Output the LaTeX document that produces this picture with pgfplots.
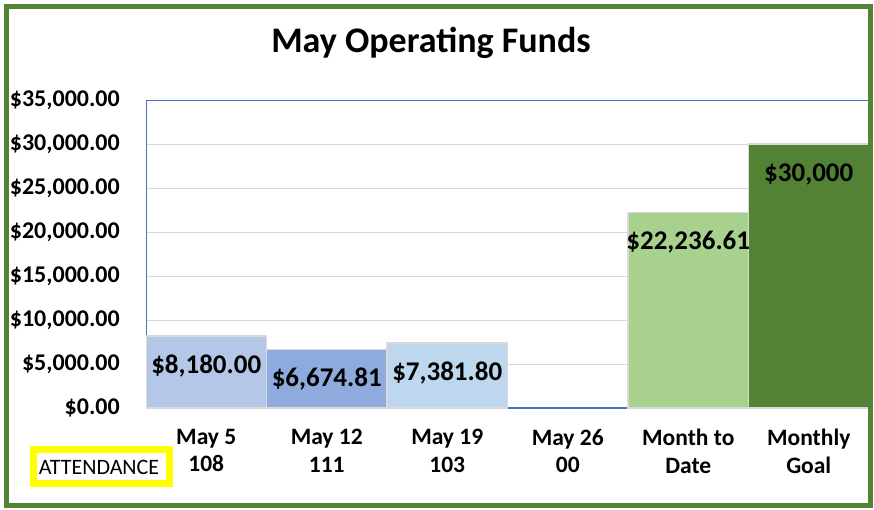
\documentclass[border=0pt]{standalone}
\usepackage{pgfplots}
\pgfplotsset{compat=1.18}
\usepackage{fontspec}
\setmainfont{Carlito}
\definecolor{frame}{HTML}{548235}
\definecolor{b1}{HTML}{B4C7E7}
\definecolor{b2}{HTML}{8FAADC}
\definecolor{b3}{HTML}{BDD7EE}
\definecolor{g1}{HTML}{A9D18E}
\definecolor{g2}{HTML}{548235}
\definecolor{axblue}{HTML}{4472C4}
\definecolor{gridgray}{HTML}{D9D9D9}
\definecolor{hl}{HTML}{FFFF00}
\begin{document}
\begin{tikzpicture}[x=1pt,y=1pt]
\path[fill=white,use as bounding box] (0,0) rectangle (874,509);
\node[font=\fontsize{36}{42}\selectfont\bfseries] at (431,466) {May Operating Funds};
\begin{axis}[
 at={(146pt,101pt)}, anchor=south west,
 scale only axis, width=723pt, height=308pt,
 xmin=-0.5, xmax=5.5, ymin=0, ymax=35000,
 scaled y ticks=false,
 axis line style={draw=none},
 ymajorgrids, grid style={gridgray, line width=1pt},
 major tick length=0pt,
 ytick={0,5000,...,35000},
 yticklabels={{\$0.00},{\$5,000.00},{\$10,000.00},{\$15,000.00},{\$20,000.00},{\$25,000.00},{\$30,000.00},{\$35,000.00}},
 xtick={0,...,5},
 xticklabels={{May 5\\108},{May 12\\111},{May 19\\103},{May 26\\00},{Month to\\Date},{Monthly\\Goal}},
 xticklabel style={align=center, font=\fontsize{23.5}{27.5}\selectfont\bfseries, anchor=north, inner sep=0pt, yshift=-21pt},
 yticklabel style={font=\fontsize{24}{28}\selectfont\bfseries, anchor=east, inner sep=0pt, xshift=-26pt},
 ybar, bar width=120.5pt,
 every axis plot/.append style={bar shift=0pt, draw=gridgray, line width=1.2pt},
 point meta=explicit symbolic,
 nodes near coords,
 nodes near coords style={font=\fontsize{27}{32}\selectfont\bfseries, anchor=center, yshift=-30pt, text=black},
]
\draw[axblue, line width=1.2pt] (axis cs:-0.5,0) rectangle (axis cs:5.5,35000);
\addplot[fill=b1] coordinates {(0,8180) [\$8,180.00]};
\addplot[fill=b2] coordinates {(1,6674.81) [\$6,674.81]};
\addplot[fill=b3] coordinates {(2,7381.80) [\$7,381.80]};
\addplot[fill=g1] coordinates {(4,22236.61) [\$22,236.61]};
\addplot[fill=g2] coordinates {(5,30000) [\$30,000]};
\end{axis}
\draw[hl, line width=7pt] (33.5,59.5) rectangle (169.5,25.5);
\node[font=\fontsize{22}{26}\selectfont] at (99,42) {ATTENDANCE};
\draw[frame, line width=5pt] (6,4) rectangle (870,502.5);
\end{tikzpicture}
\end{document}
